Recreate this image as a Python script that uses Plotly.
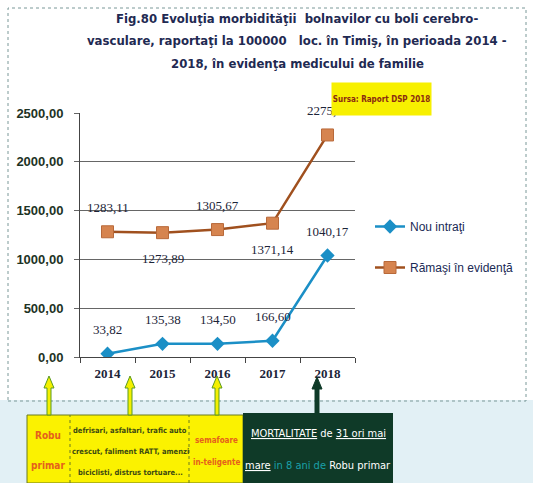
import plotly.graph_objects as go

# ---- data ----
years = ["2014", "2015", "2016", "2017", "2018"]
nou_intrati = [33.82, 135.38, 134.50, 166.60, 1040.17]
ramasi = [1283.11, 1273.89, 1305.67, 1371.14, 2275.00]
ramasi_label_pos = ["top", "bottom", "top", "bottom", "top"]
nou_label_pos = ["top", "top", "top", "top", "top"]
y_ticks = [0, 500, 1000, 1500, 2000, 2500]
title_lines = [
    "Fig.80 Evoluţia morbidităţii  bolnavilor cu boli cerebro-",
    "vasculare, raportaţi la 100000   loc. în Timiş, în perioada 2014 -",
    "2018, în evidenţa medicului de familie",
]

# ---- layout helpers (pixel -> paper) ----
W, H = 533, 483
L, R, T, B = 80, 355, 113, 357


def px(x):
    return (x - L) / (R - L)


def py(y):
    return (B - y) / (B - T)


COND = "DejaVu Sans Condensed, Liberation Sans Narrow, Arial Narrow, sans-serif"
SERIF = "Liberation Serif, Times New Roman, serif"

fig = go.Figure()
fig.add_trace(go.Scatter(
    x=years, y=nou_intrati, name="Nou intraţi", mode="lines+markers",
    line=dict(color="#1b8fc6", width=2.5),
    marker=dict(symbol="diamond", size=11, color="#1b8fc6"),
    legendgroup="a",
))
fig.add_trace(go.Scatter(
    x=years, y=ramasi, name="Rămaşi în evidenţă", mode="lines+markers",
    line=dict(color="#a0501e", width=2.5),
    marker=dict(symbol="square", size=12, color="#d6844f",
                line=dict(color="#b8693a", width=1)),
    legendgroup="b",
))

annotations = []


def fmt(v):
    return f"{v:.2f}".replace(".", ",")


for series, pos in ((ramasi, ramasi_label_pos), (nou_intrati, nou_label_pos)):
    for i, (yv, p) in enumerate(zip(series, pos)):
        annotations.append(dict(
            x=i, y=yv, xref="x", yref="y", text=fmt(yv), showarrow=False,
            xanchor="center", yanchor="middle",
            yshift=24 if p == "top" else -26,
            font=dict(family=SERIF, size=13, color="#1c2438"),
        ))

# source box
annotations.append(dict(
    x=px(381), y=py(99), xref="paper", yref="paper", text="<b>Sursa: Raport DSP 2018</b>",
    xanchor="center", yanchor="middle",
    showarrow=False, bgcolor="#f7f000", width=97, height=30,
    font=dict(family=COND, size=8, color="#8a2a10"),
))

# title lines
for ty, tl in zip((19, 41, 63), title_lines):
    annotations.append(dict(
        x=px(297), y=py(ty), xref="paper", yref="paper", text=f"<b>{tl}</b>",
        xanchor="center", yanchor="middle", showarrow=False,
        font=dict(family=COND, size=13, color="#1f2a52"),
    ))

# bottom box texts
orange = "#e5601c"
olive = "#3d4a12"
bottom = [
    (48, 435, "<b>Robu</b>", 10, orange),
    (48, 465, "<b>primar</b>", 10, orange),
    (130, 430, "<b>defrisari, asfaltari, trafic auto</b>", 7.5, olive),
    (130, 451, "<b>crescut, faliment RATT, amenzi</b>", 7.5, olive),
    (130, 472, "<b>biciclisti, distrus tortuare...</b>", 7.5, olive),
    (216, 440, "<b>semafoare</b>", 8, orange),
    (216, 462, "<b>in-teligente</b>", 8, orange),
    (318, 433, "<u>MORTALITATE</u> de <u>31 ori mai</u>", 11, "white"),
    (318, 465, "<u>mare</u> <span style='color:#1aa0a8'>in 8 ani de</span> Robu primar", 11, "white"),
]
for bx, by, bt, bs, bc in bottom:
    annotations.append(dict(
        x=px(bx), y=py(by), xref="paper", yref="paper", text=bt, showarrow=False,
        xanchor="center", yanchor="middle",
        font=dict(family=COND, size=bs, color=bc),
    ))

shapes = []
# light blue lower band
shapes.append(dict(type="rect", xref="paper", yref="paper", x0=px(0), x1=px(533), y0=py(400), y1=py(483),
                   fillcolor="#e2f0f5", line=dict(width=0), layer="below"))
# outer border
shapes.append(dict(type="rect", xref="paper", yref="paper", x0=px(8), x1=px(526), y0=py(401), y1=py(8),
                   line=dict(color="#7a9898", width=1, dash="dot"), layer="below"))
# yellow box
shapes.append(dict(type="rect", xref="paper", yref="paper", x0=px(27), x1=px(243), y0=py(483), y1=py(415),
                   fillcolor="#fbf200", line=dict(color="#6a7a20", width=1)))
for xd in (70, 189):
    shapes.append(dict(type="line", xref="paper", yref="paper", x0=px(xd), x1=px(xd), y0=py(483), y1=py(415),
                       line=dict(color="#6a7a20", width=1, dash="dot")))
# dark green box
shapes.append(dict(type="rect", xref="paper", yref="paper", x0=px(243), x1=px(393), y0=py(483), y1=py(413),
                   fillcolor="#0f3a28", line=dict(width=0)))


def arrow(xc, ybase, ytip, fill, outline):
    sw, hw, hh = 2, 5, 12
    pts = [(xc - sw, ybase), (xc - sw, ytip + hh), (xc - hw, ytip + hh), (xc, ytip),
           (xc + hw, ytip + hh), (xc + sw, ytip + hh), (xc + sw, ybase)]
    path = "M " + " L ".join(f"{px(a):.5f},{py(b):.5f}" for a, b in pts) + " Z"
    return dict(type="path", xref="paper", yref="paper", path=path, fillcolor=fill,
                line=dict(color=outline, width=1))


for xa in (49, 130, 217):
    shapes.append(arrow(xa, 415, 376, "#f4f000", "#5a9a20"))
shapes.append(arrow(317, 413, 377, "#0f3a28", "#0f3a28"))

fig.update_layout(
    width=W, height=H,
    margin=dict(l=L, r=W - R, t=T, b=H - B),
    paper_bgcolor="white", plot_bgcolor="white",
    separators=",.",
    xaxis=dict(
        type="category", range=[-0.5, 4.5], showgrid=False,
        showline=True, linecolor="#444", linewidth=1,
        ticks="outside", tickson="boundaries", ticklen=5, tickcolor="#444",
        ticklabelstandoff=4,
        tickfont=dict(family=SERIF, size=13, color="#1c2438", weight="bold"),
    ),
    yaxis=dict(
        range=[0, 2500], tickvals=y_ticks, tickformat=".2f",
        showgrid=True, gridcolor="#666", gridwidth=1,
        showline=True, linecolor="#444", linewidth=1,
        ticks="outside", ticklen=5, tickcolor="#666", ticklabelstandoff=8,
        zeroline=False,
        tickfont=dict(family="Liberation Sans, Arial, sans-serif", size=13, color="#1d3325", weight="bold"),
    ),
    legend=dict(
        x=px(370), y=py(212), xanchor="left", yanchor="top",
        font=dict(family="Liberation Sans, Arial, sans-serif", size=12, color="#1a2a55"),
        bgcolor="rgba(0,0,0,0)", tracegroupgap=22, itemwidth=30,
    ),
    annotations=annotations,
    shapes=shapes,
)

fig.write_html(
    "out.html",
    config={"displayModeBar": False},
    post_script="document.body.style.margin='0px';document.body.style.overflow='hidden';",
)
